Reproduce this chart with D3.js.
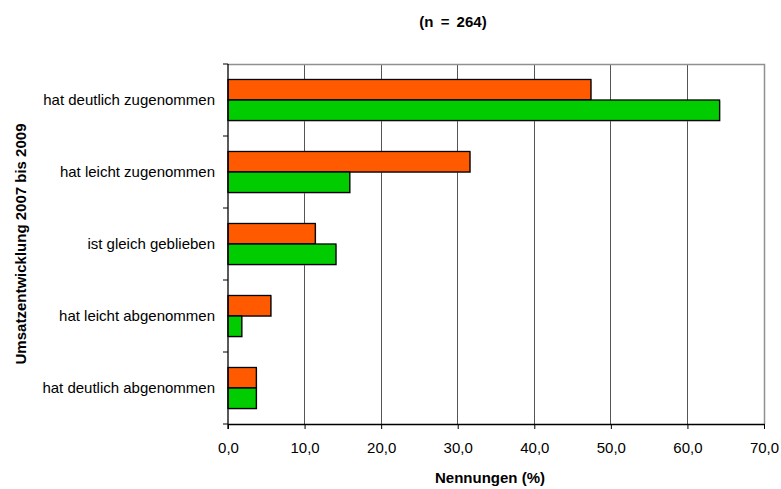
<!DOCTYPE html>
<html>
<head>
<meta charset="utf-8">
<script src="https://cdn.jsdelivr.net/npm/d3@7"></script>
<style>
  html, body { margin: 0; padding: 0; background: #fff; }
  svg { display: block; font-family: "Liberation Sans", Arial, sans-serif; }
</style>
</head>
<body>
<svg id="chart" width="781" height="489"></svg>
<script>
// Categories (top to bottom) and the two series, in percent of mentions
const categories = [
  "hat deutlich zugenommen",
  "hat leicht zugenommen",
  "ist gleich geblieben",
  "hat leicht abgenommen",
  "hat deutlich abgenommen"
];
const seriesNames = ["A", "B"];
const seriesA = [47.4, 31.6, 11.4, 5.6, 3.7];   // orange
const seriesB = [64.2, 15.9, 14.1, 1.8, 3.7];   // green
const xTicks = [0, 10, 20, 30, 40, 50, 60, 70];
const colors = ["#FF5A00", "#00CC00"];

const svg = d3.select("#chart");
const m = { left: 228, right: 17, top: 64, bottom: 65 };
const W = 781, H = 489;
const pw = W - m.left - m.right, ph = H - m.top - m.bottom;

const x = d3.scaleLinear().domain([0, 70]).range([m.left, m.left + pw]);
const y = d3.scaleBand().domain(categories).range([m.top, m.top + ph]).paddingInner(0.43).paddingOuter(0.215);
const ySub = d3.scaleBand().domain(seriesNames).range([0, y.bandwidth()]);
const yOuter = d3.scaleBand().domain(categories).range([m.top, m.top + ph]);

// Vertical grid lines
svg.append("g").selectAll("line").data(xTicks.slice(1, -1)).join("line")
  .attr("x1", d => x(d)).attr("x2", d => x(d))
  .attr("y1", m.top).attr("y2", m.top + ph)
  .attr("stroke", "#555").attr("stroke-width", 1).attr("shape-rendering", "crispEdges");

// Top and right frame
svg.append("path")
  .attr("d", `M${m.left},${m.top + 0.5}H${m.left + pw + 0.5}V${m.top + ph}`)
  .attr("fill", "none").attr("stroke", "#909090").attr("stroke-width", 1.5);

// Bars
const rows = categories.map((c, i) => ({ c, vals: [seriesA[i], seriesB[i]] }));
const grp = svg.append("g").selectAll("g").data(rows).join("g")
  .attr("transform", d => `translate(0,${y(d.c)})`);
grp.selectAll("rect.shadow").data(d => d.vals.map((v, j) => ({ v, s: seriesNames[j], j })))
  .join("rect").attr("class", "shadow")
  .attr("x", x(0) + 1).attr("y", d => ySub(d.s) + 1)
  .attr("width", d => x(d.v) - x(0)).attr("height", ySub.bandwidth())
  .attr("fill", "#999").attr("opacity", 0.6);
grp.selectAll("rect.bar").data(d => d.vals.map((v, j) => ({ v, s: seriesNames[j], j })))
  .join("rect").attr("class", "bar")
  .attr("x", x(0)).attr("y", d => ySub(d.s))
  .attr("width", d => x(d.v) - x(0)).attr("height", ySub.bandwidth())
  .attr("fill", d => colors[d.j]).attr("stroke", "#000").attr("stroke-width", 1.3);

// X axis
const xAxis = d3.axisBottom(x).tickValues(xTicks).tickSize(5).tickSizeOuter(0)
  .tickFormat(d => d3.format(".1f")(d).replace(".", ","));
const gx = svg.append("g").attr("transform", `translate(0,${m.top + ph})`).call(xAxis);
gx.select(".domain").attr("stroke", "#000").attr("stroke-width", 1.3);
gx.selectAll(".tick line").attr("stroke", "#000");
gx.selectAll(".tick text").attr("font-size", 15).attr("fill", "#000").attr("dy", null).attr("y", 29)
  .attr("font-family", "Liberation Sans, Arial, sans-serif");

// Y axis: tick marks at category boundaries, labels centred on each category
const gy = svg.append("g");
gy.append("line").attr("x1", m.left).attr("x2", m.left).attr("y1", m.top).attr("y2", m.top + ph + 5)
  .attr("stroke", "#000").attr("stroke-width", 1.3);
const bounds = categories.map(c => yOuter(c)).concat([m.top + ph]);
gy.selectAll("line.tk").data(bounds).join("line").attr("class", "tk")
  .attr("x1", m.left - 5).attr("x2", m.left).attr("y1", d => d).attr("y2", d => d)
  .attr("stroke", "#000");
gy.selectAll("text").data(categories).join("text")
  .attr("x", m.left - 13).attr("y", d => yOuter(d) + yOuter.bandwidth() / 2)
  .attr("text-anchor", "end").attr("dy", "0.35em").attr("font-size", 15).text(d => d);

// Titles
svg.append("text").attr("x", 453).attr("y", 27).attr("text-anchor", "middle")
  .attr("font-size", 15).attr("font-weight", "bold").attr("word-spacing", 3).text("(n = 264)");
svg.append("text").attr("x", 490).attr("y", 483).attr("text-anchor", "middle")
  .attr("font-size", 15).attr("font-weight", "bold").text("Nennungen (%)");
svg.append("text").attr("transform", `translate(26,${m.top + ph / 2}) rotate(-90)`)
  .attr("text-anchor", "middle").attr("font-size", 15).attr("font-weight", "bold")
  .text("Umsatzentwicklung 2007 bis 2009");
</script>
</body>
</html>
